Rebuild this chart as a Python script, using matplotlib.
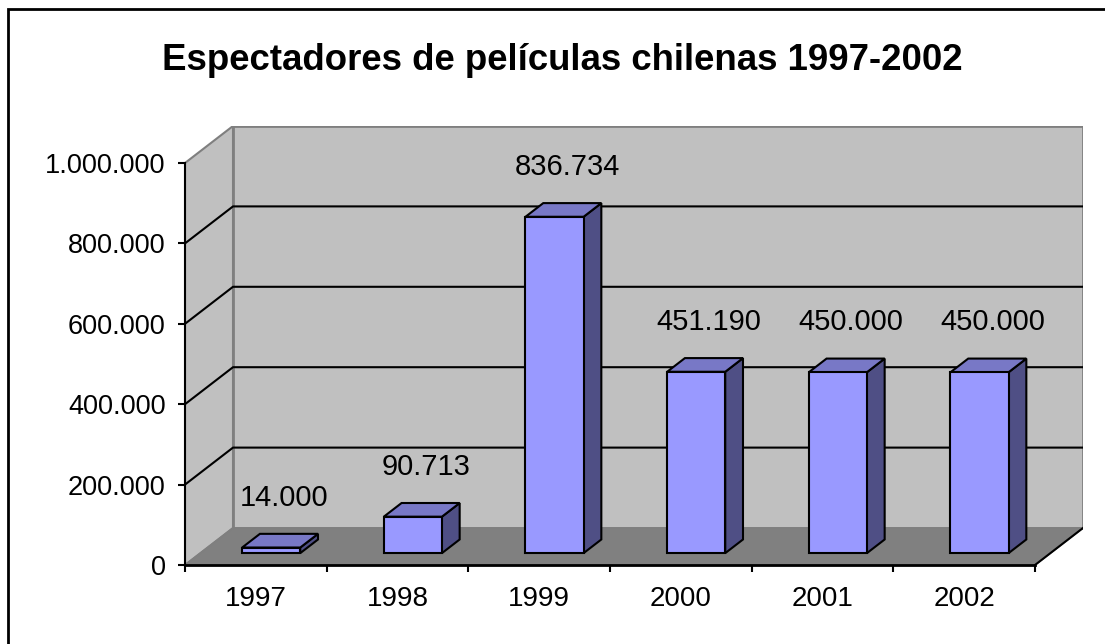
import matplotlib
matplotlib.use("Agg")
import matplotlib.pyplot as plt
from matplotlib.patches import Polygon, Rectangle
from matplotlib.ticker import FixedLocator, FuncFormatter

plt.rcParams['font.family'] = ['Liberation Sans', 'DejaVu Sans']

# ---- data ----
years = ["1997", "1998", "1999", "2000", "2001", "2002"]
spectators = [14000, 90713, 836734, 451190, 450000, 450000]
y_ticks = [0, 200000, 400000, 600000, 800000, 1000000]
title = "Espectadores de películas chilenas 1997-2002"

# ---- style / geometry ----
W, H = 1105, 644
FRONT_C = "#9999FF"
TOP_C = "#7878C6"
SIDE_C = "#4F4F85"
WALL_C = "#C0C0C0"
FLOOR_C = "#808080"
EDGE_GRAY = "#7F7F7F"

YMAX = 1000000
n = len(years)
OX = 48 / 141.67          # depth offset in category units
OY = 37 / 402 * YMAX      # depth offset in value units
BAR_W = 0.41
F0 = 0.32                 # bar front depth fraction
FD = 0.37                 # bar depth fraction

fig = plt.figure(figsize=(W / 100, H / 100), dpi=100)
fig.patch.set_facecolor("white")

ax = fig.add_axes([185 / W, (H - 565) / H, (1083 - 185) / W, (565 - 126) / H])
ax.set_xlim(0, n + OX)
ax.set_ylim(0, YMAX + OY)
ax.patch.set_visible(False)

# walls
side = Polygon([(0, 0), (OX, OY), (OX, YMAX + OY), (0, YMAX)], closed=True,
               facecolor=WALL_C, edgecolor=EDGE_GRAY, lw=1.5, zorder=1)
back = Polygon([(OX, OY), (n + OX, OY), (n + OX, YMAX + OY), (OX, YMAX + OY)], closed=True,
               facecolor=WALL_C, edgecolor=EDGE_GRAY, lw=2, zorder=1)
floor = Polygon([(0, 0), (n, 0), (n + OX, OY), (OX, OY)], closed=True,
                facecolor=FLOOR_C, edgecolor=EDGE_GRAY, lw=1.2, zorder=1.5)
for p in (side, back, floor):
    ax.add_patch(p)
ax.plot([n, n + OX], [0, OY], color="black", lw=1.5, zorder=2)

# gridlines
for v in y_ticks[1:-1]:
    ax.plot([0, OX, n + OX], [v, v + OY, v + OY], color="black", lw=1.5, zorder=2)

# bars
dx, dy = FD * OX, FD * OY
for i, (lab, v) in enumerate(zip(years, spectators)):
    x0 = i + (1 - BAR_W) / 2 + F0 * OX
    y0 = F0 * OY
    front = Polygon([(x0, y0), (x0 + BAR_W, y0), (x0 + BAR_W, y0 + v), (x0, y0 + v)],
                    closed=True, facecolor=FRONT_C, edgecolor="black", lw=1.5, zorder=4)
    top = Polygon([(x0, y0 + v), (x0 + BAR_W, y0 + v), (x0 + BAR_W + dx, y0 + v + dy),
                   (x0 + dx, y0 + v + dy)],
                  closed=True, facecolor=TOP_C, edgecolor="black", lw=1.5, zorder=3)
    sidep = Polygon([(x0 + BAR_W, y0), (x0 + BAR_W + dx, y0 + dy), (x0 + BAR_W + dx, y0 + v + dy),
                     (x0 + BAR_W, y0 + v)],
                    closed=True, facecolor=SIDE_C, edgecolor="black", lw=1.5, zorder=3)
    for p in (sidep, top, front):
        ax.add_patch(p)
    ax.annotate(f"{v:,}".replace(",", "."), xy=(x0 + BAR_W / 2 + dx / 2, y0 + v + dy),
                xytext=(3, 26), textcoords="offset points", ha="center", va="center",
                fontsize=21, color="black", zorder=5)

# axes / spines
for s in ("top", "right"):
    ax.spines[s].set_visible(False)
ax.spines["left"].set_bounds(0, YMAX)
ax.spines["bottom"].set_bounds(0, n)
ax.spines["left"].set_linewidth(1.5)
ax.spines["bottom"].set_linewidth(2)
ax.spines["left"].set_zorder(6)
ax.spines["bottom"].set_zorder(6)

ax.yaxis.set_major_locator(FixedLocator(y_ticks))
ax.yaxis.set_major_formatter(FuncFormatter(lambda v, p: f"{int(v):,}".replace(",", ".")))
ax.tick_params(axis="y", direction="out", length=5, width=1.5, pad=9, labelsize=19.5)

ax.xaxis.set_major_locator(FixedLocator(list(range(n + 1))))
ax.xaxis.set_major_formatter(FuncFormatter(lambda v, p: ""))
ax.xaxis.set_minor_locator(FixedLocator([i + 0.5 for i in range(n)]))
ax.set_xticklabels(years, minor=True)
ax.tick_params(axis="x", which="major", direction="out", length=5, width=1.5)
ax.tick_params(axis="x", which="minor", length=0, pad=15, labelsize=20)

# title
fig.text(562 / W, 1 - 60 / H, title, ha="center", va="center",
         fontsize=26.4, fontweight="bold")

# outer frame (only top and left edges inside the picture)
fig.patches.append(Rectangle((8 / W, -0.1), 1.2, (H - 9) / H + 0.1, transform=fig.transFigure,
                             fill=False, edgecolor="black", lw=2))

fig.savefig("out.png", dpi=100)
